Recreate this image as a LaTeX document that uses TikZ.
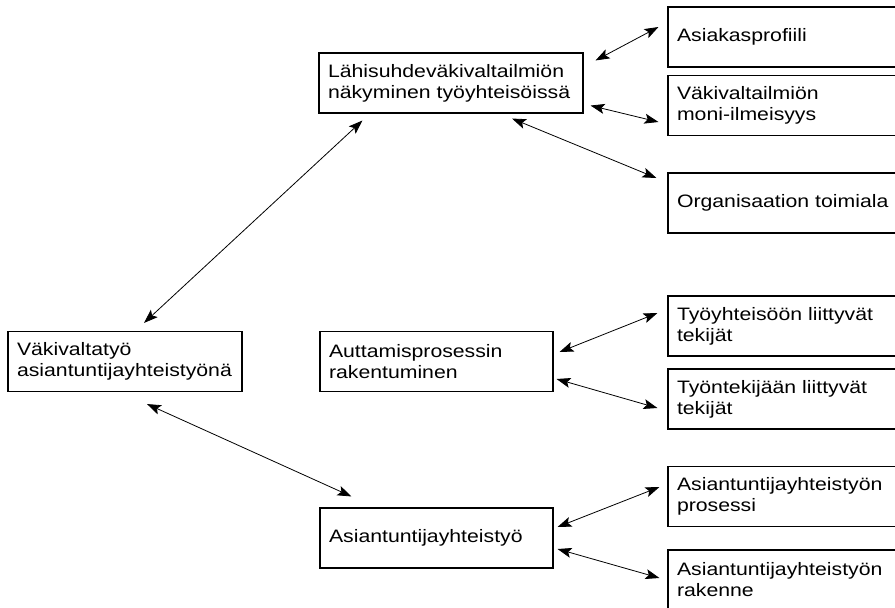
\documentclass[tikz,border=0pt]{standalone}
\usepackage{fontspec}
\setmainfont{Liberation Sans}[FakeStretch=1.18]
\usetikzlibrary{arrows.meta,calc}

\begin{document}
\begin{tikzpicture}[x=1pt, y=-1pt,
    >={Stealth[length=14pt, width=10pt, inset=3pt]},
    every node/.style={
    rectangle,
    draw,
    line width=1.1pt,
    inner xsep=9pt,
    inner ysep=0pt,
    minimum height=60pt,
    align=left,
    font=\fontsize{18}{21}\selectfont
}]
    \useasboundingbox (0,0) rectangle (895,608);
    \clip (0,0) rectangle (895,608);
    \node (vakivaltatyo) [text width=216pt, shift={(125,361.5)}]
    {
        Väkivaltatyö\\
        asiantuntijayhteistyönä
    };
    \node (lahisuhde) [text width=246pt, shift={(451,83)}]
    {
        Lähisuhdeväkivaltailmiön\\
        näkyminen työyhteisöissä
    };
    \node (auttamisprosessi) [text width=215pt, shift={(436.5,361.5)}]
    {
        Auttamisprosessin\\
        rakentuminen
    };
    \node (asiantuntijayhteistyo) [text width=215pt, shift={(436.5,538)}]
    {
        Asiantuntijayhteistyö
    };
    \node (asiakasprofiili) [text width=222pt, shift={(788,37)}]
    {
        Asiakasprofiili
    };
    \node (moni_ilmeisyys) [text width=222pt, shift={(788,105.5)}]
    {
        Väkivaltailmiön\\
        moni-ilmeisyys
    };
    \node (toimiala) [text width=222pt, shift={(788,203)}]
    {
        Organisaation toimiala
    };
    \node (tyoyhteiso_tekijat) [text width=222pt, shift={(788,326)}]
    {
        Työyhteisöön liittyvät\\
        tekijät
    };
    \node (tyontekija_tekijat) [text width=222pt, shift={(788,399)}]
    {
        Työntekijään liittyvät\\
        tekijät
    };
    \node (yhteistyon_prosessi) [text width=222pt, shift={(788,496.5)}]
    {
        Asiantuntijayhteistyön\\
        prosessi
    };
    \node (yhteistyon_rakenne) [text width=222pt, shift={(788,580)}]
    {
        Asiantuntijayhteistyön\\
        rakenne
    };
    \draw[<->, line width=0.8pt] ($(lahisuhde.north east)+(12,8)$) to ($(asiakasprofiili.west)+(-9,-10)$);
    \draw[<->, line width=0.8pt] ($(lahisuhde.south east)+(7,-8)$) to ($(moni_ilmeisyys.west)+(-9,16.5)$);
    \draw[<->, line width=0.8pt] ($(lahisuhde.south)+(61,5)$) to ($(toimiala.west)+(-11,-25)$);
    \draw[<->, line width=0.8pt] ($(lahisuhde.south west)+(44,7)$) to ($(vakivaltatyo.north)+(19,-8)$);
    \draw[<->, line width=0.8pt] ($(vakivaltatyo.south)+(22,12)$) to ($(asiantuntijayhteistyo.north west)+(32,-11)$);
    \draw[<->, line width=0.8pt] ($(auttamisprosessi.east)+(6,-9.5)$) to ($(tyoyhteiso_tekijat.west)+(-10,-13)$);
    \draw[<->, line width=0.8pt] ($(auttamisprosessi.east)+(3,17.5)$) to ($(tyontekija_tekijat.west)+(-10,9)$);
    \draw[<->, line width=0.8pt] ($(asiantuntijayhteistyo.east)+(4,-11)$) to ($(yhteistyon_prosessi.west)+(-8,-9.5)$);
    \draw[<->, line width=0.8pt] ($(asiantuntijayhteistyo.east)+(4,11)$) to ($(yhteistyon_rakenne.west)+(-8,-2)$);
\end{tikzpicture}
\end{document}
